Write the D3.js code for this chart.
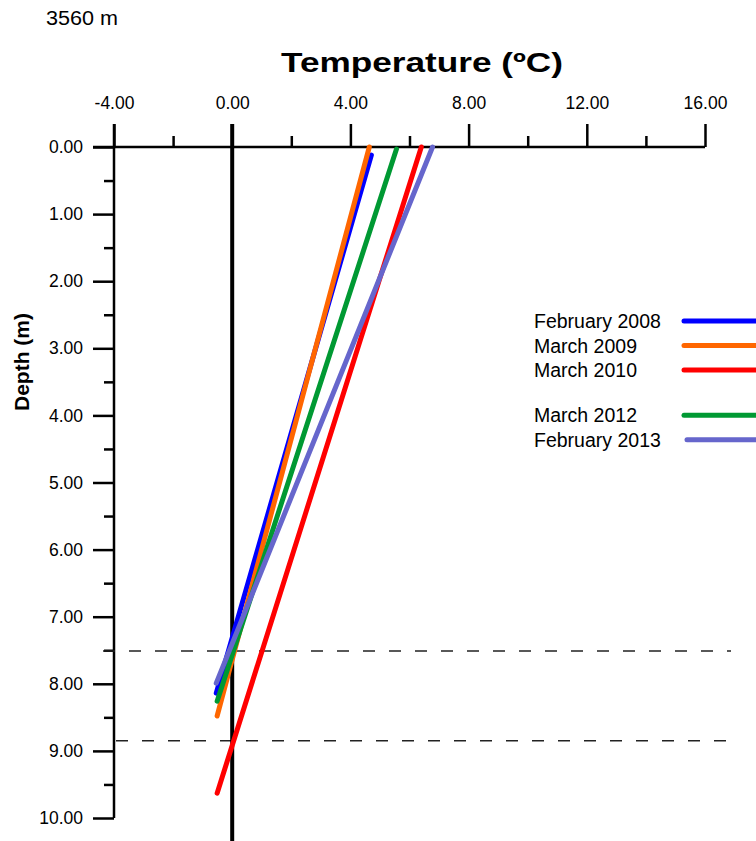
<!DOCTYPE html>
<html>
<head>
<meta charset="utf-8">
<script src="https://cdn.jsdelivr.net/npm/d3@7"></script>
<style>
  body { margin: 0; background: #fff; }
  svg { font-family: "Liberation Sans", Arial, sans-serif; }
</style>
</head>
<body>
<div id="chart"></div>
<script>
// Profile endpoints: [temperature °C, depth m]
const seriesNames = ["February 2008", "March 2009", "March 2010", "March 2012", "February 2013"];
const seriesColors = ["#0000ff", "#ff6600", "#ff0000", "#009933", "#6666cc"];
const feb2008 = [[4.71, 0.12], [-0.54, 8.14]];
const mar2009 = [[4.64, 0.00], [-0.51, 8.48]];
const mar2010 = [[6.40, 0.00], [-0.51, 9.63]];
const mar2012 = [[5.56, 0.03], [-0.51, 8.26]];
const feb2013 = [[6.78, 0.00], [-0.54, 7.99]];
const seriesData = [feb2008, mar2009, mar2010, mar2012, feb2013];
const legendRow = [0, 1, 2, 3.85, 4.85];

const xMajor = [-4, 0, 4, 8, 12, 16];
const xMinor = [-2, 2, 6, 10, 14];
const yMajor = [0, 1, 2, 3, 4, 5, 6, 7, 8, 9, 10];
const yMinor = [0.5, 1.5, 2.5, 3.5, 4.5, 5.5, 6.5, 7.5, 8.5, 9.5];
const dashedDepths = [7.51, 8.85];

const W = 756, H = 841;
const svg = d3.select("#chart").append("svg")
    .attr("width", W)
    .attr("height", H);

const x = d3.scaleLinear().domain([-4, 16]).range([114, 705]);
const y = d3.scaleLinear().domain([0, 10]).range([147, 818]);
const fmt = d => d.toFixed(2); // plain hyphen for negatives, as in the figure

// Site label
svg.append("text")
    .attr("x", 46).attr("y", 25)
    .style("font-size", "20px")
    .attr("textLength", 72)
    .attr("lengthAdjust", "spacingAndGlyphs")
    .text("3560 m");

// X axis title
svg.append("text")
    .attr("x", 281).attr("y", 72)
    .style("font-size", "28px")
    .style("font-weight", "bold")
    .attr("textLength", 282)
    .attr("lengthAdjust", "spacingAndGlyphs")
    .text("Temperature (ºC)");

// Top axis (major ticks labelled, minor ticks short)
const xAxis = svg.append("g")
    .attr("transform", `translate(0,${y(0)})`)
    .call(d3.axisTop(x).tickValues(xMajor).tickSize(23).tickSizeOuter(0)
        .tickFormat(fmt).tickPadding(15));
xAxis.select(".domain").remove();
xAxis.selectAll(".tick line").attr("stroke-width", 2.5);
xAxis.selectAll(".tick text").style("font-size", "17.5px").attr("fill", "#000");

svg.append("g")
    .attr("transform", `translate(0,${y(0)})`)
    .call(d3.axisTop(x).tickValues(xMinor).tickSize(11).tickFormat(""))
    .call(g => g.select(".domain").remove())
    .selectAll(".tick line").attr("stroke-width", 2.5);

// Left axis
const yAxis = svg.append("g")
    .attr("transform", `translate(${x(-4)},0)`)
    .call(d3.axisLeft(y).tickValues(yMajor).tickSize(21).tickSizeOuter(0)
        .tickFormat(fmt).tickPadding(10));
yAxis.select(".domain").remove();
yAxis.selectAll(".tick line").attr("stroke-width", 2.5);
yAxis.selectAll(".tick text").style("font-size", "17.5px").attr("fill", "#000");

svg.append("g")
    .attr("transform", `translate(${x(-4)},0)`)
    .call(d3.axisLeft(y).tickValues(yMinor).tickSize(10).tickFormat(""))
    .call(g => g.select(".domain").remove())
    .selectAll(".tick line").attr("stroke-width", 2.5);

// Axis lines
svg.append("line")
    .attr("x1", x(-4) - 21).attr("x2", x(16))
    .attr("y1", y(0)).attr("y2", y(0))
    .attr("stroke", "#000").attr("stroke-width", 2.5);
svg.append("line")
    .attr("x1", x(-4)).attr("x2", x(-4))
    .attr("y1", y(0) - 23).attr("y2", y(10))
    .attr("stroke", "#000").attr("stroke-width", 2.5);

// Y axis title
svg.append("text")
    .attr("transform", `translate(29,${362}) rotate(-90)`)
    .attr("text-anchor", "middle")
    .style("font-size", "21px")
    .style("font-weight", "bold")
    .text("Depth (m)");

// Dashed reference depths
svg.selectAll(".dash")
    .data(dashedDepths)
    .join("line")
    .attr("x1", (d, i) => i === 0 ? 103 : 116)
    .attr("x2", 731)
    .attr("y1", d => y(d)).attr("y2", d => y(d))
    .attr("stroke", "#222")
    .attr("stroke-width", 1.5)
    .attr("stroke-dasharray", "12,14");

// Zero-degree line
svg.append("line")
    .attr("x1", x(0)).attr("x2", x(0))
    .attr("y1", y(0) - 23).attr("y2", H)
    .attr("stroke", "#000").attr("stroke-width", 4);

// Profiles
const line = d3.line().x(d => x(d[0])).y(d => y(d[1]));
svg.selectAll(".profile")
    .data(seriesData)
    .join("path")
    .attr("d", line)
    .attr("fill", "none")
    .attr("stroke", (d, i) => seriesColors[i])
    .attr("stroke-width", 5)
    .attr("stroke-linecap", "round");

// Legend
const leg = svg.append("g");
const rowY = d3.scaleLinear().domain([0, 1]).range([321, 345.5]);
leg.selectAll("text")
    .data(seriesNames)
    .join("text")
    .attr("x", 534)
    .attr("y", (d, i) => rowY(legendRow[i]) + 7)
    .style("font-size", "19.5px")
    .text(d => d);
leg.selectAll("line")
    .data(seriesNames)
    .join("line")
    .attr("x1", (d, i) => i === 4 ? 687 : 684)
    .attr("x2", 758)
    .attr("y1", (d, i) => rowY(legendRow[i]))
    .attr("y2", (d, i) => rowY(legendRow[i]))
    .attr("stroke", (d, i) => seriesColors[i])
    .attr("stroke-width", 5)
    .attr("stroke-linecap", "round");
</script>
</body>
</html>
